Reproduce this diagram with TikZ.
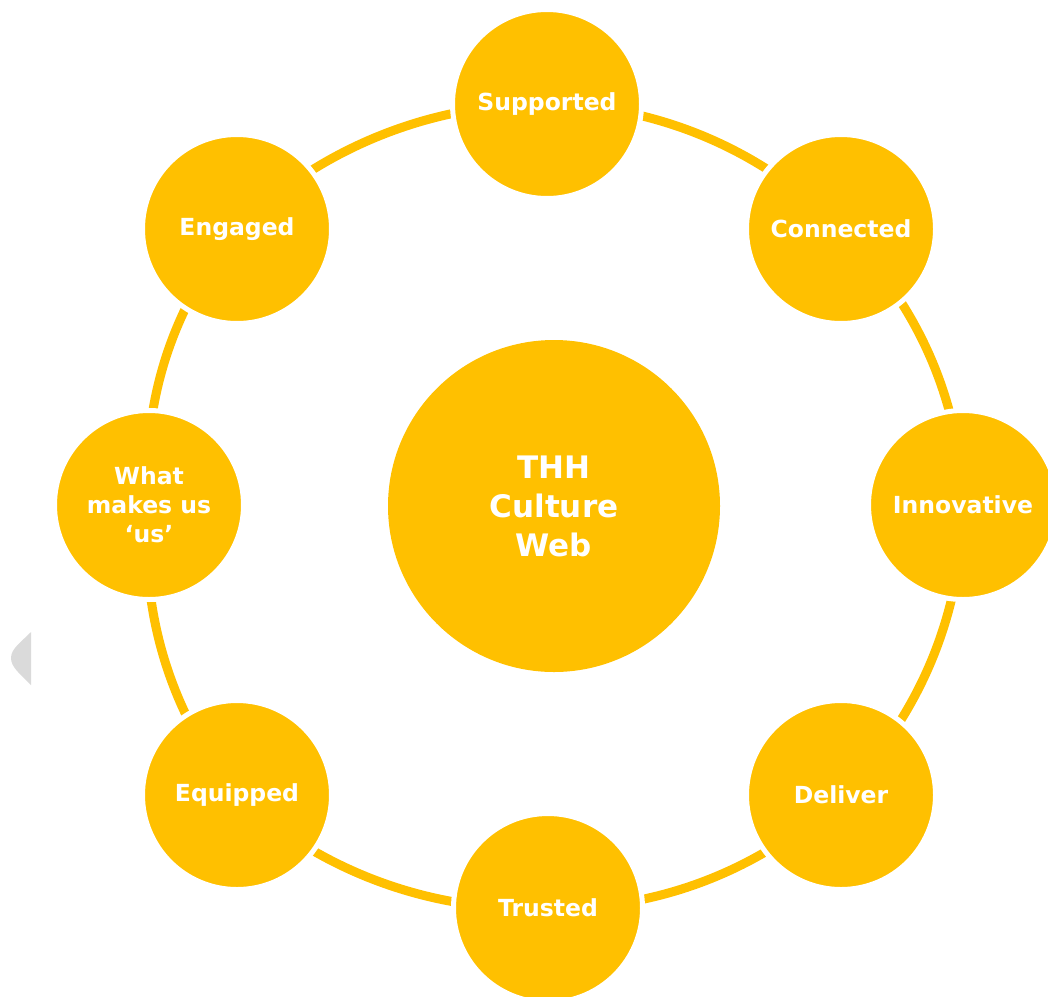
\documentclass[tikz,border=0pt]{standalone}
\usepackage{fontspec}
\setmainfont{DejaVu Sans}
\definecolor{gold}{HTML}{FFC000}
\definecolor{tabgray}{HTML}{DADADA}
\pgfdeclarelayer{background}
\pgfsetlayers{background,main}
\begin{document}
\begin{tikzpicture}[x=1pt,y=-1pt,
  petal/.style={circle, fill=gold, draw=white, line width=5pt, minimum size=189pt,
    inner sep=0pt, text=white, font=\fontsize{23.5}{29}\selectfont\bfseries, align=center},
  hub/.style={circle, fill=gold, minimum size=332pt, inner sep=0pt,
    text=white, font=\fontsize{31}{39}\selectfont\bfseries, align=center},
  ring/.style={draw=gold, line width=9pt, bend left=22.5, looseness=0.885}]
\useasboundingbox (0,0) rectangle (1048,996);

% side tab
\fill[tabgray] (31,632) .. controls (20,643) and (11,649) .. (11,658)
  .. controls (11,667) and (20,674) .. (31,685) -- cycle;

% centre
\node[hub] (hub) at (554,506) {THH\\Culture\\Web};

% surrounding values
\node[petal] (sup) at (547,104) {Supported};
\node[petal] (con) at (841,229) {Connected};
\node[petal] (inn) at (963,505) {Innovative};
\node[petal] (del) at (841,795) {Deliver};
\node[petal] (tru) at (548,908) {Trusted};
\node[petal] (equ) at (237,795) {Equipped};
\node[petal] (wha) at (149,505) {What\\makes us\\`us'};
\node[petal] (eng) at (237,229) {Engaged};

% ring joining the values, passing behind them
\begin{pgfonlayer}{background}
\draw[ring] (sup.center) to (con.center);
\draw[ring] (con.center) to (inn.center);
\draw[ring] (inn.center) to (del.center);
\draw[ring] (del.center) to (tru.center);
\draw[ring] (tru.center) to (equ.center);
\draw[ring] (equ.center) to (wha.center);
\draw[ring] (wha.center) to (eng.center);
\draw[ring] (eng.center) to (sup.center);
\end{pgfonlayer}
\end{tikzpicture}
\end{document}
